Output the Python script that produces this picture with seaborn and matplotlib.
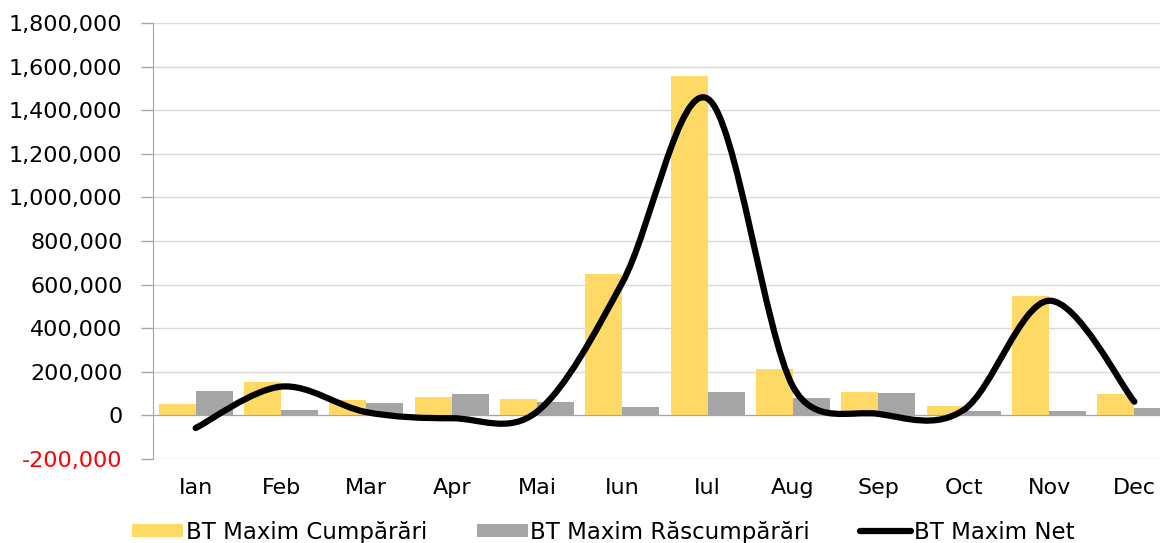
import numpy as np
import pandas as pd
import matplotlib
matplotlib.use("Agg")
import matplotlib.pyplot as plt
import seaborn as sns
from matplotlib.path import Path
from matplotlib.patches import PathPatch, Patch
from matplotlib.lines import Line2D
from matplotlib.ticker import FixedLocator, NullFormatter

months = ["Ian", "Feb", "Mar", "Apr", "Mai", "Iun", "Iul", "Aug", "Sep", "Oct", "Nov", "Dec"]
cumparari = [52000, 155000, 72000, 83000, 77000, 649000, 1559000, 213000, 109000, 45000, 546000, 98000]
rascumparari = [110000, 23000, 57000, 96000, 60000, 40000, 106000, 81000, 102000, 20000, 20000, 35000]
net = [c - r for c, r in zip(cumparari, rascumparari)]

series_names = ["BT Maxim Cumpărări", "BT Maxim Răscumpărări", "BT Maxim Net"]
y_ticks = [-200000, 0, 200000, 400000, 600000, 800000, 1000000, 1200000, 1400000, 1600000, 1800000]

YELLOW = "#FFD966"
GREY = "#A5A5A5"

sns.set_style("white")
plt.rcParams["font.family"] = ["DejaVu Sans"]
plt.rcParams["font.size"] = 16
plt.rcParams["text.color"] = "black"

df = pd.DataFrame({
    "luna": months * 2,
    "valoare": cumparari + rascumparari,
    "serie": [series_names[0]] * 12 + [series_names[1]] * 12,
})

fig = plt.figure(figsize=(11.6, 5.43), dpi=100)
ax = fig.add_axes([153 / 1160, 84 / 543, 1024 / 1160, 436 / 543])

sns.barplot(data=df, x="luna", y="valoare", hue="serie", order=months,
            hue_order=series_names[:2], palette=[YELLOW, GREY], saturation=1,
            width=0.87, errorbar=None, linewidth=0, legend=False, ax=ax, zorder=2)

ax.set_xlim(-0.5, len(months) - 0.5)
ax.set_ylim(-200000, 1800000)

# linia neta, netezita ca in Excel (bezier prin puncte, manere limitate la jumatate de segment)
pts = np.column_stack([np.arange(len(net), dtype=float), np.array(net, dtype=float)])
disp = ax.transData.transform(pts)


def dist(a, b):
    return float(np.hypot(*(disp[a] - disp[b])))


verts = [tuple(pts[0])]
codes = [Path.MOVETO]
n = len(pts)
for i in range(n - 1):
    i0 = max(i - 1, 0)
    i3 = min(i + 2, n - 1)
    d12 = dist(i, i + 1)
    d02 = dist(i0, i + 1)
    d13 = dist(i, i3)
    f0 = 1 / 6 if d02 / 6 < d12 / 2 else d12 / (2 * d02)
    f3 = 1 / 6 if d13 / 6 < d12 / 2 else d12 / (2 * d13)
    c1 = pts[i] + (pts[i + 1] - pts[i0]) * f0
    c2 = pts[i + 1] - (pts[i3] - pts[i]) * f3
    verts += [tuple(c1), tuple(c2), tuple(pts[i + 1])]
    codes += [Path.CURVE4] * 3
ax.add_patch(PathPatch(Path(verts, codes), fill=False, edgecolor="black", lw=4.5,
                       capstyle="round", joinstyle="round", zorder=4))

ax.set_xlabel("")
ax.set_ylabel("")

ax.set_yticks(y_ticks)
ax.set_yticklabels([f"{v:,}" for v in y_ticks])
for lbl, v in zip(ax.get_yticklabels(), y_ticks):
    lbl.set_color("#FF0000" if v < 0 else "black")
ax.grid(axis="y", color="#D9D9D9", linewidth=1, zorder=0)
ax.set_axisbelow(True)

for s in ["top", "right"]:
    ax.spines[s].set_visible(False)
ax.spines["left"].set_color("#A6A6A6")
ax.spines["bottom"].set_color("#A6A6A6")
ax.spines["bottom"].set_position(("data", 0))
ax.spines["bottom"].set_zorder(3)

ax.xaxis.set_major_locator(FixedLocator(np.arange(0.5, len(months) - 0.5, 1.0)))
ax.xaxis.set_major_formatter(NullFormatter())
ax.set_xticks(np.arange(len(months)), minor=True)
ax.set_xticklabels(months, minor=True)
ax.tick_params(axis="x", which="major", direction="out", length=6, color="#A6A6A6", width=1)
ax.tick_params(axis="x", which="minor", length=0, pad=45, labelsize=16, labelcolor="black")
ax.tick_params(axis="y", direction="out", length=9, color="#A6A6A6", width=1, pad=13,
               labelsize=16, left=True)

handles = [
    Patch(facecolor=YELLOW, edgecolor="none"),
    Patch(facecolor=GREY, edgecolor="none"),
    Line2D([0], [0], color="black", lw=4.5, solid_capstyle="round"),
]
fig.legend(handles, series_names, loc="center", bbox_to_anchor=(0.52, 0.02), ncol=3,
           frameon=False, fontsize=16.5, handlelength=2.2, handleheight=0.55,
           handletextpad=0.12, columnspacing=2.2, labelcolor="black")

fig.savefig("out.png", dpi=100)
